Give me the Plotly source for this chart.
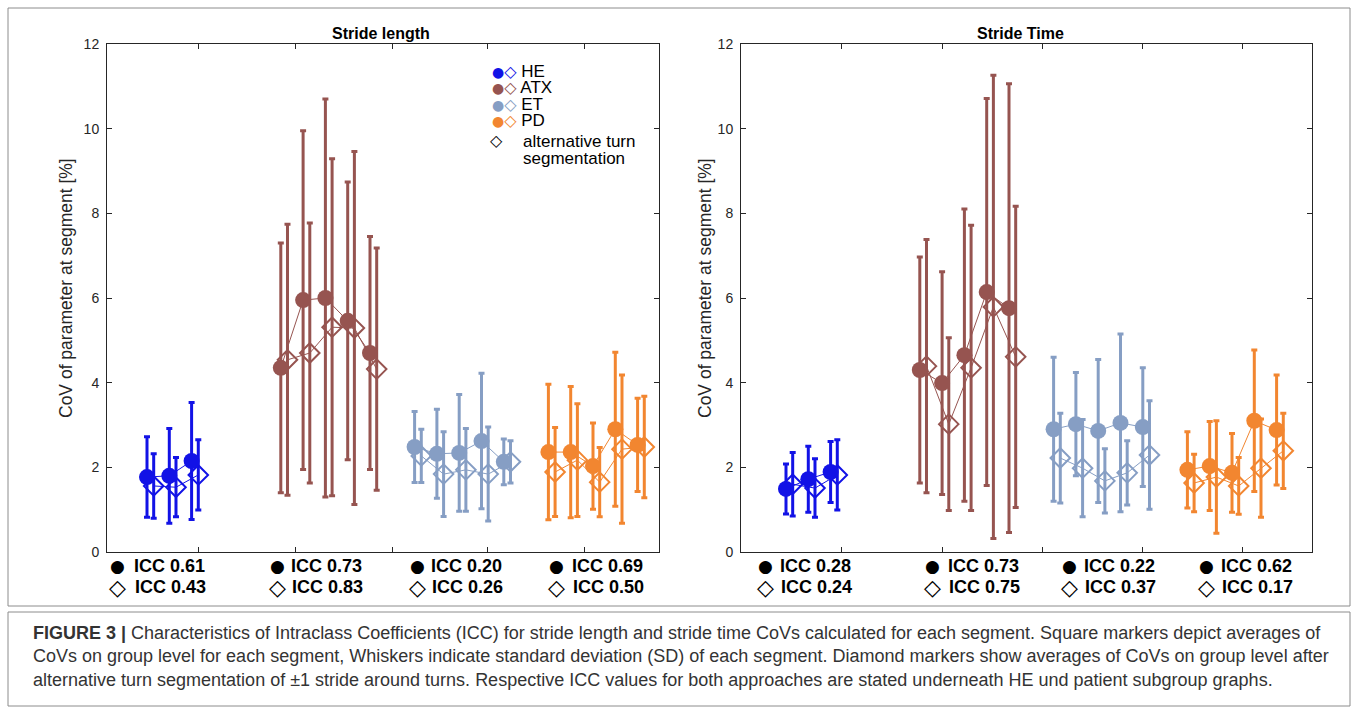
import plotly.graph_objects as go

W, H = 1358, 714

groups = ["HE", "ATX", "ET", "PD"]
colors = {"HE": "rgb(18,18,230)", "ATX": "rgb(150,84,80)", "ET": "rgb(134,158,196)", "PD": "rgb(242,134,48)"}
slots = {"HE": [0, 1, 2], "ATX": [6, 7, 8, 9, 10], "ET": [12, 13, 14, 15, 16], "PD": [18, 19, 20, 21, 22]}
alt_offset = 0.3

# Stride length CoV [%] (mean, SD), standard segmentation and alternative turn segmentation
SL_mean = {
    "HE": [1.77, 1.80, 2.15],
    "ATX": [4.35, 5.95, 6.00, 5.46, 4.70],
    "ET": [2.48, 2.32, 2.34, 2.62, 2.13],
    "PD": [2.36, 2.36, 2.03, 2.90, 2.53],
}
SL_sd = {
    "HE": [0.95, 1.12, 1.38],
    "ATX": [2.95, 4.00, 4.70, 3.28, 2.75],
    "ET": [0.84, 1.05, 1.38, 1.60, 0.54],
    "PD": [1.60, 1.55, 1.02, 1.82, 1.10],
}
SL_alt_mean = {
    "HE": [1.56, 1.53, 1.82],
    "ATX": [4.54, 4.70, 5.31, 5.29, 4.32],
    "ET": [2.27, 1.84, 1.94, 1.84, 2.13],
    "PD": [1.89, 2.17, 1.65, 2.43, 2.48],
}
SL_alt_sd = {
    "HE": [0.76, 0.70, 0.83],
    "ATX": [3.20, 3.07, 3.98, 4.17, 2.86],
    "ET": [0.63, 1.00, 0.98, 1.11, 0.50],
    "PD": [1.05, 1.33, 0.82, 1.75, 1.20],
}

# Stride time CoV [%]
ST_mean = {
    "HE": [1.49, 1.72, 1.89],
    "ATX": [4.30, 3.99, 4.65, 6.14, 5.76],
    "ET": [2.90, 3.02, 2.86, 3.05, 2.95],
    "PD": [1.94, 2.03, 1.87, 3.10, 2.88],
}
ST_sd = {
    "HE": [0.59, 0.78, 0.72],
    "ATX": [2.67, 2.63, 3.45, 4.57, 5.30],
    "ET": [1.70, 1.22, 1.69, 2.10, 1.40],
    "PD": [0.90, 1.05, 0.93, 1.67, 1.30],
}
ST_alt_mean = {
    "HE": [1.60, 1.51, 1.82],
    "ATX": [4.39, 3.02, 4.35, 5.79, 4.61],
    "ET": [2.22, 1.98, 1.68, 1.87, 2.29],
    "PD": [1.63, 1.77, 1.56, 1.98, 2.39],
}
ST_alt_sd = {
    "HE": [0.75, 0.69, 0.83],
    "ATX": [2.99, 2.04, 3.37, 5.47, 3.56],
    "ET": [1.06, 1.15, 0.76, 0.76, 1.28],
    "PD": [0.68, 1.33, 0.67, 1.16, 0.89],
}

ICC_SL = {"HE": ("0.61", "0.43"), "ATX": ("0.73", "0.83"), "ET": ("0.20", "0.26"), "PD": ("0.69", "0.50")}
ICC_ST = {"HE": ("0.28", "0.24"), "ATX": ("0.73", "0.75"), "ET": ("0.22", "0.37"), "PD": ("0.62", "0.17")}

yticks = [0, 2, 4, 6, 8, 10, 12]
titles = ["Stride length", "Stride Time"]
ylabel = "CoV of parameter at segment [%]"
caption = ("<b>FIGURE 3 |</b> Characteristics of Intraclass Coefficients (ICC) for stride length and stride time CoVs calculated for each segment. Square markers depict averages of<br>"
           "CoVs on group level for each segment, Whiskers indicate standard deviation (SD) of each segment. Diamond markers show averages of CoVs on group level after<br>"
           "alternative turn segmentation of ±1 stride around turns. Respective ICC values for both approaches are stated underneath HE und patient subgroup graphs.")

def px(x):
    return x / W

def py(y):
    return 1 - y / H

fig = go.Figure()

panels = [
    ("x", "y", SL_mean, SL_sd, SL_alt_mean, SL_alt_sd),
    ("x2", "y2", ST_mean, ST_sd, ST_alt_mean, ST_alt_sd),
]
for xa, ya, m, s, am, asd in panels:
    for g in groups:
        c = colors[g]
        xs = slots[g]
        fig.add_trace(go.Scatter(
            x=[v + alt_offset for v in xs], y=am[g], xaxis=xa, yaxis=ya, mode="lines+markers",
            line=dict(color=c, width=1),
            marker=dict(symbol="diamond-open", size=15, color=c, line=dict(width=2, color=c)),
            error_y=dict(type="data", array=asd[g], visible=True, color=c, thickness=3, width=3),
            showlegend=False, cliponaxis=False))
        fig.add_trace(go.Scatter(
            x=xs, y=m[g], xaxis=xa, yaxis=ya, mode="lines+markers",
            line=dict(color=c, width=1),
            marker=dict(symbol="circle", size=16, color=c),
            error_y=dict(type="data", array=s[g], visible=True, color=c, thickness=3, width=3),
            showlegend=False, cliponaxis=False))

axis_common = dict(showgrid=False, zeroline=False, showline=True, linecolor="#262626", linewidth=1,
                   mirror="ticks", ticks="inside", ticklen=5, tickcolor="#262626", automargin=False)

fig.update_layout(
    width=W, height=H, margin=dict(l=0, r=0, t=0, b=0, pad=0, autoexpand=False),
    paper_bgcolor="white", plot_bgcolor="white",
    font=dict(family="Liberation Sans, Arial", color="#262626"),
    xaxis=dict(domain=[px(107), px(659)], range=[(107 - 147) / 22.3, (659 - 147) / 22.3],
               tickvals=[2.29, 6.64, 10.99, 15.29, 19.64], showticklabels=False, anchor="y", **axis_common),
    yaxis=dict(domain=[py(552), py(44)], range=[0, 12], tickvals=yticks, anchor="x",
               tickfont=dict(size=14, color="#262626"), ticklabelstandoff=4, **axis_common),
    xaxis2=dict(domain=[px(741), px(1312)], range=[(741 - 786) / 22.3, (1312 - 786) / 22.3],
                tickvals=[2.51, 7.0, 11.48, 16.0, 20.45], showticklabels=False, anchor="y2", **axis_common),
    yaxis2=dict(domain=[py(552), py(44)], range=[0, 12], tickvals=yticks, anchor="x2",
                tickfont=dict(size=14, color="#262626"), ticklabelstandoff=4, **axis_common),
)

ann = []
# panel titles
for t, cx in zip(titles, [381, 1020]):
    ann.append(dict(x=px(cx), y=py(33), xref="paper", yref="paper", text="<b>" + t + "</b>",
                    showarrow=False, font=dict(size=16, color="black"), xanchor="center", yanchor="middle"))
# y labels
for cx in [66, 705]:
    ann.append(dict(x=px(cx), y=py(288), xref="paper", yref="paper", text=ylabel, textangle=-90,
                    showarrow=False, font=dict(size=17.5, color="#262626"), xanchor="center", yanchor="middle"))

# ICC labels
icc_pos = [
    (ICC_SL, [(117, 132), (277, 289), (417, 429), (556, 570)]),
    (ICC_ST, [(765, 778), (932, 946), (1069, 1082), (1206, 1219)]),
]
for icc, poss in icc_pos:
    for g, (bx, tx) in zip(groups, poss):
        a, b = icc[g]
        ann.append(dict(x=px(bx), y=py(566), xref="paper", yref="paper", text="●", showarrow=False,
                        font=dict(size=17, color="black", family="DejaVu Sans"), xanchor="center", yanchor="middle"))
        ann.append(dict(x=px(bx), y=py(587), xref="paper", yref="paper", text="◇", showarrow=False,
                        font=dict(size=22, color="black", family="DejaVu Sans"), xanchor="center", yanchor="middle"))
        ann.append(dict(x=px(tx), y=py(566), xref="paper", yref="paper", text="<b>ICC " + a + "</b>",
                        showarrow=False, font=dict(size=18, color="black"), xanchor="left", yanchor="middle"))
        ann.append(dict(x=px(tx + 1), y=py(587), xref="paper", yref="paper", text="<b>ICC " + b + "</b>",
                        showarrow=False, font=dict(size=18, color="black"), xanchor="left", yanchor="middle"))

# legend: one multi-line text for the groups (tight line spacing as in the reference)
rows = []
for g in groups:
    c = colors[g]
    rows.append(("<span style='font-family:DejaVu Sans;font-size:14px;color:%s'>●</span>"
                 "<span style='font-family:DejaVu Sans;font-size:16px;color:%s'>◇</span>"
                 "<span style='font-size:17px'> %s</span>") % (c, c, g))
ann.append(dict(x=px(490), y=py(96.5), xref="paper", yref="paper", text="<br>".join(rows), showarrow=False,
                align="left", font=dict(size=12.6, color="black"), xanchor="left", yanchor="middle"))
ann.append(dict(x=px(497), y=py(141), xref="paper", yref="paper", text="◇", showarrow=False,
                font=dict(size=16, color="black", family="DejaVu Sans"), xanchor="center", yanchor="middle"))
ann.append(dict(x=px(521), y=py(149.5), xref="paper", yref="paper",
                text="<span style='font-size:17px'>alternative turn</span><br><span style='font-size:17px'>segmentation</span>",
                showarrow=False, align="left", font=dict(size=13, color="black"), xanchor="left", yanchor="middle"))

# caption
ann.append(dict(x=px(31), y=py(656), xref="paper", yref="paper", text=caption, showarrow=False, align="left",
                font=dict(size=18, color="#333333"), xanchor="left", yanchor="middle"))
fig.update_layout(annotations=ann)

fig.update_layout(shapes=[
    dict(type="rect", xref="paper", yref="paper", x0=px(8), x1=px(1350), y0=py(606), y1=py(8),
         line=dict(color="#8c8c8c", width=1)),
    dict(type="rect", xref="paper", yref="paper", x0=px(8), x1=px(1350), y0=py(706), y1=py(612),
         line=dict(color="#8c8c8c", width=1)),
])

fig.write_html("out.html", config={"displayModeBar": False},
               post_script="document.body.style.margin='0px';document.body.style.overflow='hidden';")
